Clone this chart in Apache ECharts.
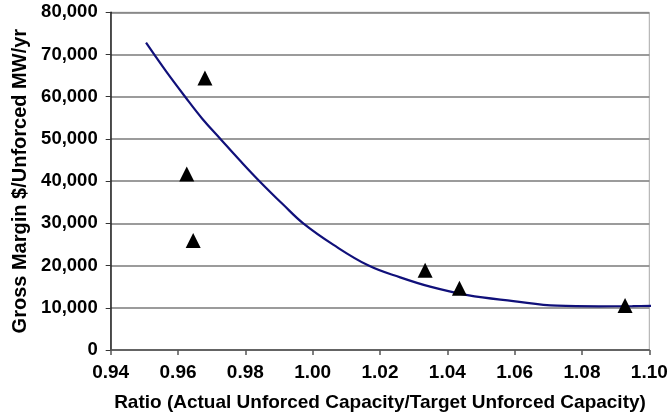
<!DOCTYPE html>
<html>
<head>
<meta charset="utf-8">
<script src="https://cdn.jsdelivr.net/npm/echarts@6/dist/echarts.min.js"></script>
<style>html,body{margin:0;padding:0;background:#fff}#c{width:671px;height:420px}</style>
</head>
<body>
<div id="c"></div>
<script>
// Observed data points (ratio, gross margin)
const pointX = [0.9626, 0.9645, 0.9680, 1.0334, 1.0436, 1.0928];
const pointY = [41700, 25950, 64450, 18890, 14620, 10545];
// Trendline
const curveX = [0.9505, 0.9562, 0.9621, 0.9672, 0.9726, 0.9784, 0.9842, 0.9913, 0.9972, 1.0062, 1.0166, 1.0260, 1.0349, 1.0460, 1.0596, 1.0726, 1.0850, 1.0950, 1.1024];
const curveY = [72800, 66300, 60000, 54800, 50000, 44900, 40000, 34400, 30000, 24900, 20000, 17200, 15000, 13000, 11600, 10500, 10350, 10400, 10500];
const xTitle = 'Ratio (Actual Unforced Capacity/Target Unforced Capacity)';
const yTitle = 'Gross Margin $/Unforced MW/yr';

const chart = echarts.init(document.getElementById('c'), null, {renderer: 'canvas'});
const font = 'Liberation Sans, Arial, sans-serif';
chart.setOption({
  animation: false,
  backgroundColor: '#ffffff',
  grid: {left: 110.7, right: 21.7, top: 12.3, bottom: 70, show: true, borderColor: '#a8a8a8', borderWidth: 1, backgroundColor: 'transparent'},
  xAxis: {
    type: 'value', min: 0.94, max: 1.10, interval: 0.02,
    name: xTitle, nameLocation: 'middle', nameGap: 43,
    nameTextStyle: {fontFamily: font, fontWeight: 'bold', fontSize: 19, color: '#000'},
    axisLine: {lineStyle: {color: '#555', width: 1.5}},
    axisTick: {show: true, length: 5, lineStyle: {color: '#555', width: 1.5}},
    axisLabel: {margin: 13, fontFamily: font, fontWeight: 'bold', fontSize: 19, color: '#000',
      formatter: v => v.toFixed(2)},
    splitLine: {show: false}
  },
  yAxis: {
    type: 'value', min: 0, max: 80000, interval: 10000,
    name: yTitle, nameLocation: 'middle', nameGap: 77, nameRotate: 90,
    nameTextStyle: {fontFamily: font, fontWeight: 'bold', fontSize: 20, color: '#000'},
    axisLine: {show: true, lineStyle: {color: '#222', width: 1.5}},
    axisTick: {show: true, length: 5, lineStyle: {color: '#333', width: 1}},
    axisLabel: {margin: 13, fontFamily: font, fontWeight: 'bold', fontSize: 18.5, color: '#000',
      formatter: v => v.toLocaleString('en-US')},
    splitLine: {show: true, lineStyle: {color: '#7a7a7a', width: 1.5}}
  },
  series: [
    {
      type: 'line', data: curveX.map((x, i) => [x, curveY[i]]),
      smooth: 0.4, showSymbol: false, clip: false,
      lineStyle: {color: '#10107a', width: 2.2}, z: 3
    },
    {
      type: 'scatter', data: pointX.map((x, i) => [x, pointY[i]]),
      symbol: 'triangle', symbolSize: [15, 15],
      itemStyle: {color: '#000', opacity: 1}, z: 4
    }
  ]
});
</script>
</body>
</html>
